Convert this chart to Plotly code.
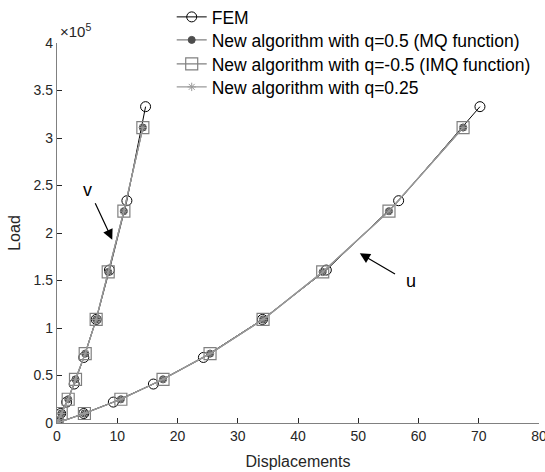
import plotly.graph_objects as go

# Load levels (in units of 1e5)
load_fem = [0, 0.10, 0.22, 0.41, 0.69, 1.09, 1.61, 2.34, 3.33]
load_new = [0, 0.10, 0.25, 0.46, 0.73, 1.09, 1.59, 2.23, 3.11]

# Displacement v (vertical branch)
v_fem = [0, 0.6, 1.6, 2.85, 4.45, 6.5, 8.7, 11.6, 14.7]
v_new = [0, 0.7, 1.86, 3.07, 4.68, 6.5, 8.5, 11.1, 14.25]

# Displacement u (horizontal branch)
u_fem = [0, 4.45, 9.35, 16.0, 24.3, 34.1, 44.7, 56.7, 70.2]
u_new = [0, 4.55, 10.6, 17.6, 25.4, 34.2, 44.1, 55.1, 67.4]

x_ticks = [0, 10, 20, 30, 40, 50, 60, 70, 80]
y_ticks = [0, 0.5, 1, 1.5, 2, 2.5, 3, 3.5, 4]
y_tick_text = ["0", "0.5", "1", "1.5", "2", "2.5", "3", "3.5", "4"]

FONT = "Liberation Sans, Arial, sans-serif"
GRAY = "#808080"

W, H = 545, 472
M_L, M_R, M_T, M_B = 57, 6, 43, 49
PLOT_H = H - M_T - M_B

series = [
    dict(name="FEM", x=(u_fem, v_fem), y=load_fem,
         line=dict(color="black", width=1),
         marker=dict(symbol="circle-open", size=10, color="black", line=dict(width=1))),
    dict(name="New algorithm with q=0.5 (MQ function)", x=(u_new, v_new), y=load_new,
         line=dict(color=GRAY, width=1.2),
         marker=dict(symbol="circle", size=7, color="#4d4d4d", line=dict(width=1, color="#4d4d4d"))),
    dict(name="New algorithm with q=-0.5 (IMQ function)", x=(u_new, v_new), y=load_new,
         line=dict(color=GRAY, width=1.2),
         marker=dict(symbol="square-open", size=12, color=GRAY, line=dict(width=1.2))),
    dict(name="New algorithm with q=0.25", x=(u_new, v_new), y=load_new,
         line=dict(color="#9a9a9a", width=1.2),
         marker=dict(symbol="asterisk-open", size=7, color="#9a9a9a", line=dict(width=1))),
]

# one legend box per entry, stacked at a fixed row pitch
legend_ids = ["legend", "legend2", "legend3", "legend4"]
row_px = [17, 40, 64, 87]

fig = go.Figure()
for s, lid in zip(series, legend_ids):
    for i, xs in enumerate(s["x"]):
        fig.add_trace(go.Scatter(
            x=xs, y=s["y"], mode="lines+markers", name=s["name"],
            legendgroup=s["name"], showlegend=(i == 0), legend=lid,
            line=s["line"], marker=s["marker"],
        ))

legend_style = dict(x=0.238, xanchor="left", yanchor="middle",
                    bgcolor="rgba(0,0,0,0)", borderwidth=0,
                    font=dict(family=FONT, size=17.5, color="black"),
                    tracegroupgap=0, itemwidth=30)
fig.update_layout(**{
    lid: dict(legend_style, y=1 + (M_T - py) / PLOT_H)
    for lid, py in zip(legend_ids, row_px)
})

fig.add_annotation(x=9.17, y=1.93, ax=6.23, ay=2.33, axref="x", ayref="y",
                   xref="x", yref="y", text="", showarrow=True,
                   arrowhead=2, arrowsize=1.7, arrowwidth=1.2, arrowcolor="black")
fig.add_annotation(x=5.08, y=2.45, text="v", showarrow=False,
                   font=dict(family=FONT, size=18, color="black"))
fig.add_annotation(x=50.26, y=1.786, ax=56.35, ay=1.558, axref="x", ayref="y",
                   xref="x", yref="y", text="", showarrow=True,
                   arrowhead=2, arrowsize=1.7, arrowwidth=1.2, arrowcolor="black")
fig.add_annotation(x=58.7, y=1.495, text="u", showarrow=False,
                   font=dict(family=FONT, size=18, color="black"))
fig.add_annotation(xref="paper", yref="paper", x=0, y=1, xanchor="left", yanchor="bottom",
                   xshift=1, yshift=1, text="\u00d710<sup>5</sup>", showarrow=False,
                   font=dict(family=FONT, size=15, color="#262626"))

fig.update_xaxes(range=[0, 80], tickvals=x_ticks, showgrid=False, zeroline=False,
                 showline=True, linecolor=GRAY, linewidth=1.3, mirror=False,
                 ticks="inside", ticklen=5, tickcolor="#262626",
                 ticklabeloverflow="allow", automargin=False,
                 tickfont=dict(family=FONT, size=14, color="#262626"),
                 title=dict(text="Displacements", font=dict(family=FONT, size=16, color="#262626"),
                            standoff=12))
fig.update_yaxes(range=[0, 4], tickvals=y_ticks, ticktext=y_tick_text, showgrid=False,
                 zeroline=False, showline=True, linecolor=GRAY, linewidth=1.3, mirror=False,
                 ticks="inside", ticklen=5, tickcolor="#262626", automargin=False,
                 tickfont=dict(family=FONT, size=14, color="#262626"),
                 title=dict(text="Load", font=dict(family=FONT, size=16, color="#262626"),
                            standoff=8))

fig.update_layout(
    width=W, height=H,
    margin=dict(l=M_L, r=M_R, t=M_T, b=M_B, autoexpand=False),
    plot_bgcolor="white", paper_bgcolor="white",
)

fig.write_html("out.html")
